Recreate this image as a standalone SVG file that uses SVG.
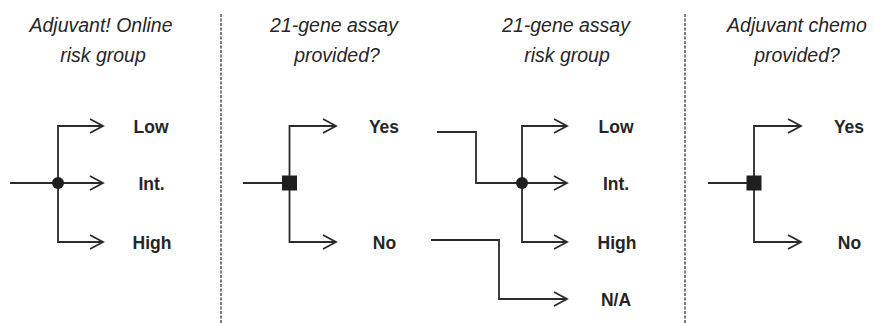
<svg xmlns="http://www.w3.org/2000/svg" width="874" height="323" viewBox="0 0 874 323">
  <style>
    .hdr { font-family: "Liberation Sans", Arial, sans-serif; font-style: italic; font-size: 19.5px; fill: #262626; text-anchor: middle; }
    .lbl { font-family: "Liberation Sans", Arial, sans-serif; font-weight: bold; font-size: 17.5px; fill: #262626; text-anchor: middle; }
    .edge { fill: none; stroke: #2b2b2b; stroke-width: 1.8; }
    .arr { marker-end: url(#chevron); }
    .divider { stroke: #3a3a3a; stroke-width: 1.3; stroke-dasharray: 3 1.5; }
    .node { fill: #1e1e1e; }
  </style>
  <defs>
    <marker id="chevron" markerUnits="userSpaceOnUse" viewBox="-1 -1 16 17" refX="13" refY="7" markerWidth="16" markerHeight="17" orient="auto" overflow="visible">
      <path d="M0,0 L13,7 L0,14" fill="none" stroke="#2b2b2b" stroke-width="1.8"/>
    </marker>
  </defs>

  <rect width="874" height="323" fill="#ffffff"/>

  <!-- column headers -->
  <g id="headers">
    <text class="hdr" x="101" y="32">Adjuvant! Online</text>
    <text class="hdr" x="103" y="62">risk group</text>
    <text class="hdr" x="334" y="32">21-gene assay</text>
    <text class="hdr" x="337" y="62">provided?</text>
    <text class="hdr" x="566" y="32">21-gene assay</text>
    <text class="hdr" x="567" y="62">risk group</text>
    <text class="hdr" x="797" y="32">Adjuvant chemo</text>
    <text class="hdr" x="797" y="62">provided?</text>
  </g>

  <!-- section dividers -->
  <g id="dividers">
    <line class="divider" x1="221" y1="14" x2="221" y2="323"/>
    <line class="divider" x1="685" y1="14" x2="685" y2="323"/>
  </g>

  <!-- connectors -->
  <g id="connectors">
    <!-- Adjuvant! Online risk group -->
    <line class="edge" x1="10" y1="183" x2="58" y2="183"/>
    <path class="edge arr" d="M58,183 V126 H103"/>
    <path class="edge arr" d="M58,183 H103"/>
    <path class="edge arr" d="M58,183 V242 H103"/>
    <!-- 21-gene assay provided? -->
    <line class="edge" x1="243" y1="183" x2="289.5" y2="183"/>
    <path class="edge arr" d="M289.5,183 V126 H336"/>
    <path class="edge arr" d="M289.5,183 V242 H336"/>
    <!-- 21-gene assay risk group -->
    <path class="edge" d="M437,132 H476 V183 H522"/>
    <path class="edge arr" d="M522,183 V126 H567"/>
    <path class="edge arr" d="M522,183 H567"/>
    <path class="edge arr" d="M522,183 V242 H567"/>
    <path class="edge arr" d="M431,240 H499 V299 H567"/>
    <!-- Adjuvant chemo provided? -->
    <line class="edge" x1="708" y1="183" x2="754" y2="183"/>
    <path class="edge arr" d="M754,183 V126 H801"/>
    <path class="edge arr" d="M754,183 V242 H801"/>
  </g>

  <!-- chance and decision nodes -->
  <g id="chance-online">
    <circle class="node" cx="58" cy="183" r="6"/>
  </g>
  <g id="decision-assay">
    <rect class="node" x="282" y="175.5" width="15" height="15"/>
  </g>
  <g id="chance-assay-risk">
    <circle class="node" cx="522" cy="183" r="6"/>
  </g>
  <g id="decision-chemo">
    <rect class="node" x="746.5" y="175.5" width="15" height="15"/>
  </g>

  <!-- outcome labels -->
  <g id="outcomes-online">
    <text class="lbl" x="151" y="132.5">Low</text>
    <text class="lbl" x="151.5" y="190">Int.</text>
    <text class="lbl" x="152" y="248.5">High</text>
  </g>
  <g id="outcomes-assay">
    <text class="lbl" x="384" y="132.5">Yes</text>
    <text class="lbl" x="384.5" y="248.5">No</text>
  </g>
  <g id="outcomes-assay-risk">
    <text class="lbl" x="616" y="132.5">Low</text>
    <text class="lbl" x="616" y="190">Int.</text>
    <text class="lbl" x="617" y="248.5">High</text>
    <text class="lbl" x="616" y="306">N/A</text>
  </g>
  <g id="outcomes-chemo">
    <text class="lbl" x="849" y="132.5">Yes</text>
    <text class="lbl" x="849.5" y="248.5">No</text>
  </g>
</svg>
